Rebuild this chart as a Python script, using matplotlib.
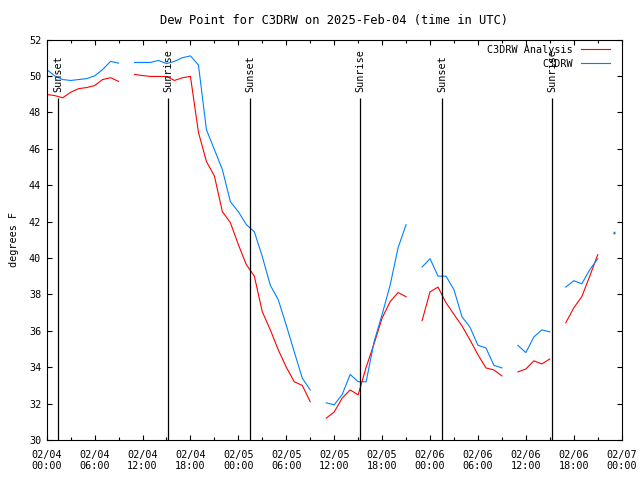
#!/usr/bin/env python3

import numpy as np
import pandas as pd
import matplotlib
matplotlib.use("Agg")
import matplotlib.pyplot as plt
import matplotlib.dates as mdates

nan = np.nan

# hourly values starting 2025-02-04 00:00 UTC (NaN = missing)
analysis = [
    48.98, 48.92, 48.8, 49.1, 49.3, 49.36, 49.47, 49.8, 49.9, 49.7,
    nan, 50.08, 50.02, 49.97, 49.97, 49.97, 49.75, 49.9, 49.97, 46.9,
    45.3, 44.5, 42.54, 41.94, 40.73, 39.63, 39.0, 37.04, 36.05, 34.95,
    34.0, 33.2, 33.0, 32.1, nan, 31.2, 31.54, 32.3, 32.75, 32.48,
    34.0, 35.3, 36.7, 37.6, 38.1, 37.87, nan, 36.55, 38.14, 38.4,
    37.54, 36.9, 36.27, 35.5, 34.68, 33.96, 33.85, 33.52, nan, 33.74,
    33.9, 34.35, 34.18, 34.45, nan, 36.44, 37.26, 37.87, 39.0, 40.18,
    nan, 41.35,
]
observed = [
    50.35, 50.0, 49.8, 49.75, 49.8, 49.85, 50.0, 50.35, 50.8, 50.7,
    nan, 50.74, 50.74, 50.74, 50.85, 50.68, 50.8, 51.0, 51.1, 50.6,
    47.05, 45.95, 44.85, 43.09, 42.54, 41.83, 41.44, 40.07, 38.5, 37.7,
    36.3, 34.84, 33.4, 32.75, nan, 32.04, 31.93, 32.5, 33.6, 33.2,
    33.2, 35.4, 36.9, 38.5, 40.56, 41.83, nan, 39.5, 39.96, 39.0,
    39.0, 38.25, 36.77, 36.2, 35.2, 35.06, 34.1, 33.96, nan, 35.2,
    34.8, 35.66, 36.05, 35.94, nan, 38.4, 38.75, 38.58, 39.35, 39.96,
    nan, 41.45,
]
times = pd.date_range("2025-02-04 00:00", periods=len(analysis), freq="h")

sun_times = pd.to_datetime([
    "2025-02-04 01:27", "2025-02-04 15:14", "2025-02-05 01:29",
    "2025-02-05 15:16", "2025-02-06 01:32", "2025-02-06 15:19",
])
sun_labels = ["Sunset", "Sunrise", "Sunset", "Sunrise", "Sunset", "Sunrise"]

plt.rcParams["font.family"] = "DejaVu Sans Mono"
plt.rcParams["font.size"] = 7.3

fig = plt.figure(figsize=(6.4, 4.8), dpi=100)
ax = fig.add_axes([46.7 / 640, 40 / 480, 575 / 640, 400.5 / 480])

for vals, color, label in [(analysis, "#ff0000", "C3DRW Analysis"),
                           (observed, "#0080ff", "C3DRW")]:
    v = np.array(vals, dtype=float)
    ax.plot(times, v, color=color, lw=0.8, label=label)
    # single points with no neighbours show up as dots
    prev = np.r_[nan, v[:-1]]
    nxt = np.r_[v[1:], nan]
    lone = ~np.isnan(v) & np.isnan(prev) & np.isnan(nxt)
    ax.plot(times[lone], v[lone], ls="none", marker="s", ms=1.2,
            mec="none", color=color)

for t, lab in zip(sun_times, sun_labels):
    ax.vlines(t, 30, 48.8, color="black", lw=0.9)
    ax.text(t, 49.1, lab, rotation=90, ha="center", va="bottom")

ax.set_ylim(30, 52)
ax.set_yticks(np.arange(30, 53, 2))
ax.set_xlim(pd.Timestamp("2025-02-04 00:00"), pd.Timestamp("2025-02-07 00:00"))
ax.xaxis.set_major_locator(mdates.HourLocator(interval=6))
ax.xaxis.set_minor_locator(mdates.HourLocator(interval=3))
ax.xaxis.set_major_formatter(mdates.DateFormatter("%m/%d\n%H:%M"))
ax.yaxis.set_minor_locator(matplotlib.ticker.NullLocator())
ax.tick_params(which="both", direction="in", top=True, right=True, width=0.8)
ax.tick_params(which="major", length=3.8, pad=4)
ax.tick_params(axis="x", which="major", pad=7)
ax.tick_params(which="minor", length=2)
for s in ax.spines.values():
    s.set_linewidth(0.8)

ax.set_ylabel("degrees F", labelpad=7)
ax.set_title("Dew Point for C3DRW on 2025-Feb-04 (time in UTC)", pad=11.5)

ax.legend(loc="upper right", bbox_to_anchor=(1 - 12 / 575, 1 - 5 / 400),
          frameon=False, markerfirst=False, handlelength=2.8,
          handletextpad=0.8, labelspacing=0.4, borderaxespad=0,
          borderpad=0)

fig.savefig("out.png", dpi=100)
